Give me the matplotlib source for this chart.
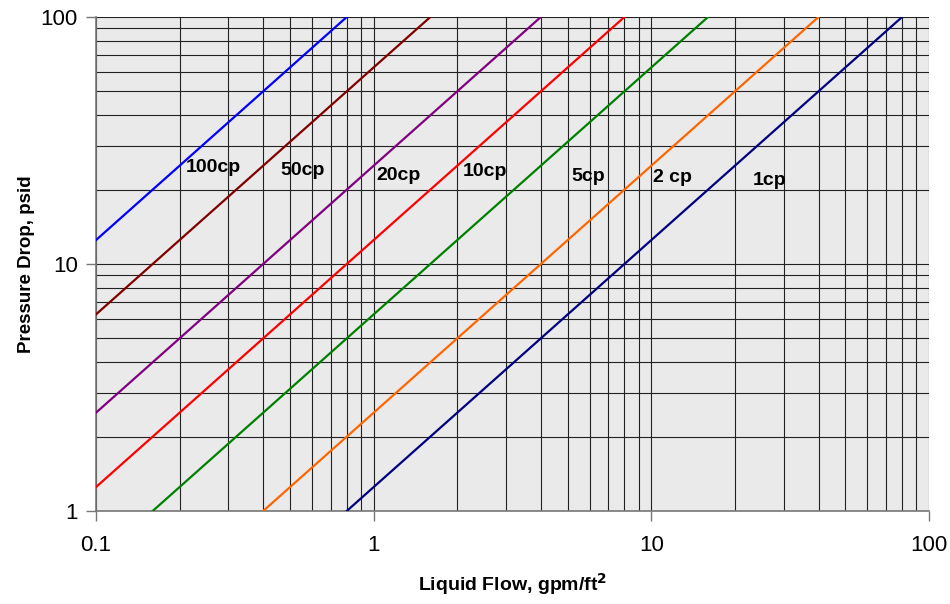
import numpy as np
import matplotlib
matplotlib.use('Agg')
import matplotlib.pyplot as plt
from matplotlib.ticker import LogLocator, FixedLocator, NullFormatter

plt.rcParams['font.family'] = ['Liberation Sans', 'DejaVu Sans']

# viscosity curves, endpoints (flow gpm/ft2, dP psid)
names = ['100cp', '50cp', '20cp', '10cp', '5cp', '2 cp', '1cp']
colors = ['#0000ff', '#800000', '#800080', '#ff0000', '#008000', '#ff6600', '#000080']
flow_start = [0.1, 0.1, 0.1, 0.1, 0.16, 0.4, 0.8]
flow_end = [0.8, 1.6, 4.0, 8.0, 16.0, 40.0, 80.0]
dp_start = [12.5, 6.25, 2.5, 1.25, 1.0, 1.0, 1.0]
dp_end = [100, 100, 100, 100, 100, 100, 100]

# label positions
label_x = [0.264, 0.556, 1.224, 2.52, 5.91, 11.87, 26.7]
label_y = [24.6, 24.0, 22.9, 23.6, 22.7, 22.3, 21.7]

fig = plt.figure(figsize=(9.5, 6.04), dpi=100)
ax = fig.add_axes([96 / 950, 1 - 511 / 604, 833 / 950, 494 / 604])
ax.set_facecolor('#eaeaea')

for i in range(len(names)):
    ax.plot([flow_start[i], flow_end[i]], [dp_start[i], dp_end[i]],
            color=colors[i], lw=1.6, zorder=3)
    ax.text(label_x[i], label_y[i], names[i], ha='center', va='center',
            fontsize=14, fontweight='bold', zorder=4)

ax.set_xscale('log')
ax.set_yscale('log')
ax.set_xlim(0.1, 100)
ax.set_ylim(1, 100)

ax.xaxis.set_major_locator(FixedLocator([0.1, 1, 10, 100]))
ax.yaxis.set_major_locator(FixedLocator([1, 10, 100]))
ax.xaxis.set_minor_locator(LogLocator(base=10, subs=np.arange(2, 10)))
ax.yaxis.set_minor_locator(LogLocator(base=10, subs=np.arange(2, 10)))
ax.xaxis.set_minor_formatter(NullFormatter())
ax.yaxis.set_minor_formatter(NullFormatter())
ax.set_xticklabels(['0.1', '1', '10', '100'])
ax.set_yticklabels(['1', '10', '100'])

ax.grid(True, which='both', color='#222222', lw=0.8, zorder=1)
ax.set_axisbelow(True)
ax.tick_params(which='major', direction='out', length=7, width=1, color='#777777',
               labelsize=16, pad=6)
ax.tick_params(which='minor', length=0)
ax.tick_params(axis='x', pad=10)

for s in ['top', 'right']:
    ax.spines[s].set_visible(False)
for s in ['left', 'bottom']:
    ax.spines[s].set_color('#777777')
    ax.spines[s].set_linewidth(1.2)

ax.set_xlabel('Liquid Flow, gpm/ft$^\\mathbf{2}$', fontsize=14, fontweight='bold', labelpad=11)
ax.set_ylabel('Pressure Drop, psid', fontsize=13.5, fontweight='bold', labelpad=4)

fig.savefig('out.png', dpi=100)
